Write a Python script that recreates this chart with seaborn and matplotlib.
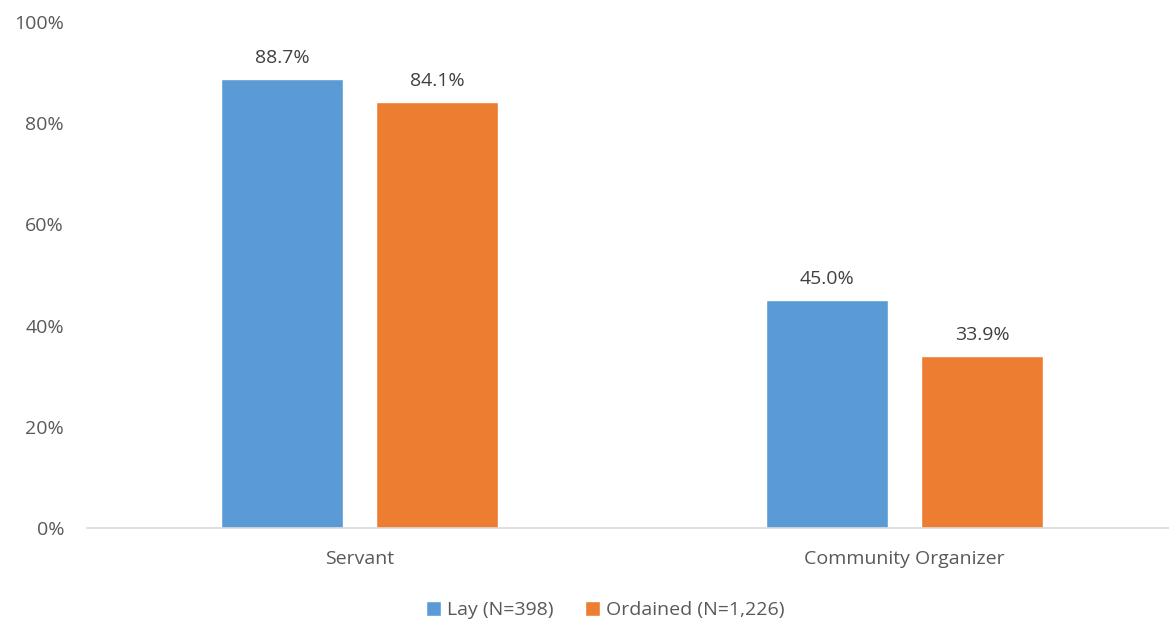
import matplotlib
matplotlib.use("Agg")
import matplotlib.pyplot as plt
import seaborn as sns
import pandas as pd

categories = ["Servant", "Community Organizer"]
series = ["Lay (N=398)", "Ordained (N=1,226)"]
lay_values = [88.7, 45.0]
ordained_values = [84.1, 33.9]
y_ticks = [0, 20, 40, 60, 80, 100]
y_tick_labels = ["0%", "20%", "40%", "60%", "80%", "100%"]

df = pd.DataFrame({
    "category": categories * 2,
    "series": [series[0]] * 2 + [series[1]] * 2,
    "value": lay_values + ordained_values,
})

sns.set_theme(style="white")
plt.rcParams["font.family"] = ["Open Sans", "DejaVu Sans"]

fig = plt.figure(figsize=(11.69, 6.26), dpi=100)
ax = fig.add_axes([87 / 1169, 0.1565, 1090 / 1169, 0.8085])

palette = {series[0]: "#5B9BD5", series[1]: "#ED7D31"}
sns.barplot(data=df, x="category", y="value", hue="series", order=categories,
            hue_order=series, palette=palette, width=0.569, gap=0.2127,
            saturation=1, ax=ax, legend=True)

fs = 14
text_color = "#595959"
for cont in ax.containers:
    ax.bar_label(cont, labels=[f"{v:.1f}%" for v in cont.datavalues],
                 padding=9, fontsize=fs, color="#404040")

ax.set_xlim(-0.5, 1.5)
ax.set_ylim(0, 100)
ax.set_yticks(y_ticks)
ax.set_yticklabels(y_tick_labels, fontsize=fs, color=text_color)
ax.tick_params(axis="x", labelsize=fs, colors=text_color, length=0, pad=16)
ax.tick_params(axis="y", length=0, pad=16.5)
ax.set_xlabel("")
ax.set_ylabel("")
for s in ["top", "right", "left"]:
    ax.spines[s].set_visible(False)
ax.spines["bottom"].set_color("#D9D9D9")
ax.spines["bottom"].set_linewidth(1.2)

leg = ax.legend(loc="center", bbox_to_anchor=((605 - 87) / 1090, (528 - 610) / 506.1),
                ncol=2, frameon=False, fontsize=fs, handlelength=0.8, handleheight=0.8,
                handletextpad=0.3, columnspacing=1.6)
for t in leg.get_texts():
    t.set_color(text_color)

fig.savefig("out.png", dpi=100)
